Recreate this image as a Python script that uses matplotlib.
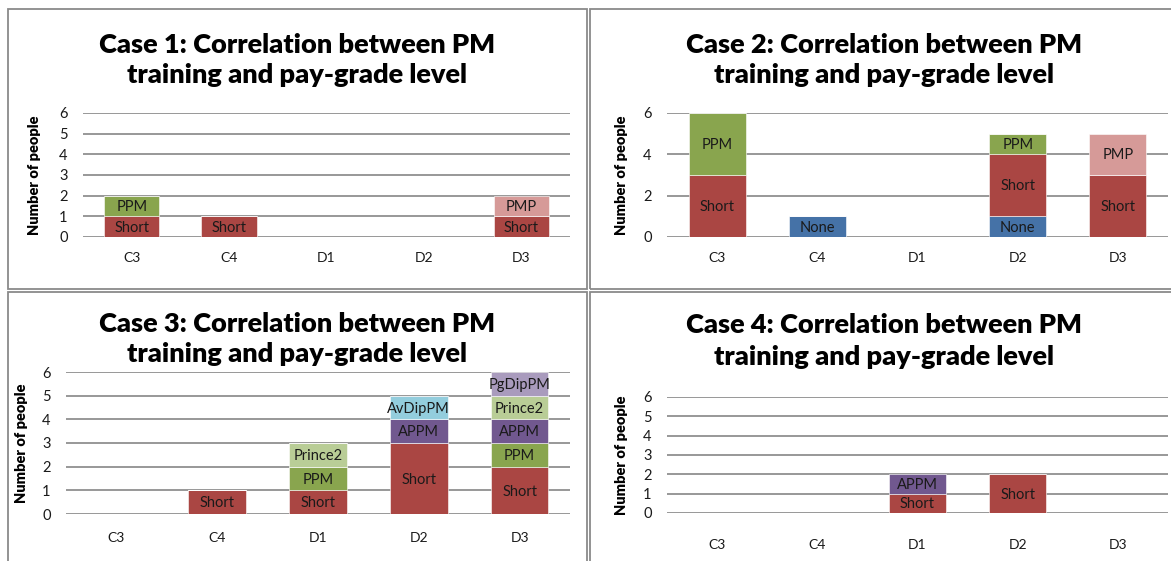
import matplotlib.pyplot as plt
from matplotlib.patches import Rectangle

categories = ["C3", "C4", "D1", "D2", "D3"]

# case 1
case1_short = [1, 1, 0, 0, 1]
case1_ppm = [1, 0, 0, 0, 0]
case1_pmp = [0, 0, 0, 0, 1]

# case 2
case2_none = [0, 1, 0, 1, 0]
case2_short = [3, 0, 0, 3, 3]
case2_ppm = [3, 0, 0, 1, 0]
case2_pmp = [0, 0, 0, 0, 2]

# case 3
case3_short = [0, 1, 1, 3, 2]
case3_ppm = [0, 0, 1, 0, 1]
case3_appm = [0, 0, 0, 1, 1]
case3_prince2 = [0, 0, 1, 0, 1]
case3_avdippm = [0, 0, 0, 1, 0]
case3_pgdippm = [0, 0, 0, 0, 1]

# case 4
case4_short = [0, 0, 1, 2, 0]
case4_appm = [0, 0, 1, 0, 0]

colors = {
    "Short": "#AA4643",
    "PPM": "#89A54E",
    "None": "#4572A7",
    "PMP": "#D69A98",
    "APPM": "#71588F",
    "Prince2": "#B9CD96",
    "AvDipPM": "#93CDDD",
    "PgDipPM": "#A99BBD",
}

W, H = 1171, 561
plt.rcParams['font.family'] = ['Lato', 'DejaVu Sans']


def px_axes(fig, x0, x1, ytop, ybot):
    return fig.add_axes([x0 / W, 1 - ybot / H, (x1 - x0) / W, (ybot - ytop) / H])


def panel(fig, box, ax_box, title_xy, title, series, yticks, ylab_x, xpad, lsp):
    # panel frame
    x0, y0, x1, y1 = box
    fig.patches.append(Rectangle((x0 / W, 1 - y1 / H), (x1 - x0) / W, (y1 - y0) / H,
                                 transform=fig.transFigure, fill=False,
                                 edgecolor="#8a8a8a", linewidth=1.3))
    ax = px_axes(fig, *ax_box)
    bottom = [0] * len(categories)
    for name, vals in series:
        bars = ax.bar(categories, vals, width=0.57, bottom=bottom,
                      color=colors[name], edgecolor="white", linewidth=0.4, zorder=3)
        for b, v in zip(bars, vals):
            if v > 0:
                ax.text(b.get_x() + b.get_width() / 2, b.get_y() + b.get_height() / 2 - 0.05,
                        name, ha="center", va="center", fontsize=10.5, color="#1a1a1a", zorder=4)
        bottom = [a + v for a, v in zip(bottom, vals)]
    ax.set_ylim(0, 6)
    ax.set_xlim(-0.5, 4.5)
    ax.set_yticks(yticks)
    ax.grid(axis="y", color="#868686", linewidth=1.2, zorder=0)
    for s in ax.spines.values():
        s.set_visible(False)
    ax.tick_params(axis="both", length=0, labelsize=10.5, colors="#1a1a1a")
    ax.tick_params(axis="y", pad=11)
    ax.tick_params(axis="x", pad=xpad, labelsize=10)
    ax.set_ylabel("Number of people", fontsize=10.5, fontweight="heavy")
    ax.yaxis.set_label_coords((ylab_x - ax_box[0]) / (ax_box[1] - ax_box[0]), 0.5)
    fig.text(title_xy[0] / W, 1 - title_xy[1] / H, title, ha="center", va="center",
             fontsize=19.5, fontweight="heavy", linespacing=lsp)
    return ax


fig = plt.figure(figsize=(W / 100, H / 100), dpi=100)

panel(fig, (8, 9, 587, 289), (83, 570, 113, 237), (297, 60),
      "Case 1: Correlation between PM\ntraining and pay-grade level",
      [("Short", case1_short), ("PPM", case1_ppm), ("PMP", case1_pmp)],
      [0, 1, 2, 3, 4, 5, 6], 41, 11, 1.28)

panel(fig, (590, 9, 1175, 289), (667, 1168, 113, 237), (884, 60),
      "Case 2: Correlation between PM\ntraining and pay-grade level",
      [("None", case2_none), ("Short", case2_short), ("PPM", case2_ppm), ("PMP", case2_pmp)],
      [0, 2, 4, 6], 628, 11, 1.28)

panel(fig, (8, 292, 587, 566), (66, 570, 372, 514), (297, 339),
      "Case 3: Correlation between PM\ntraining and pay-grade level",
      [("Short", case3_short), ("PPM", case3_ppm), ("APPM", case3_appm),
       ("Prince2", case3_prince2), ("AvDipPM", case3_avdippm), ("PgDipPM", case3_pgdippm)],
      [0, 1, 2, 3, 4, 5, 6], 28, 13, 1.35)

panel(fig, (590, 292, 1175, 566), (667, 1168, 397, 513), (884, 341),
      "Case 4: Correlation between PM\ntraining and pay-grade level",
      [("Short", case4_short), ("APPM", case4_appm)],
      [0, 1, 2, 3, 4, 5, 6], 628, 19, 1.38)

fig.savefig("out.png", dpi=100, facecolor="white")
